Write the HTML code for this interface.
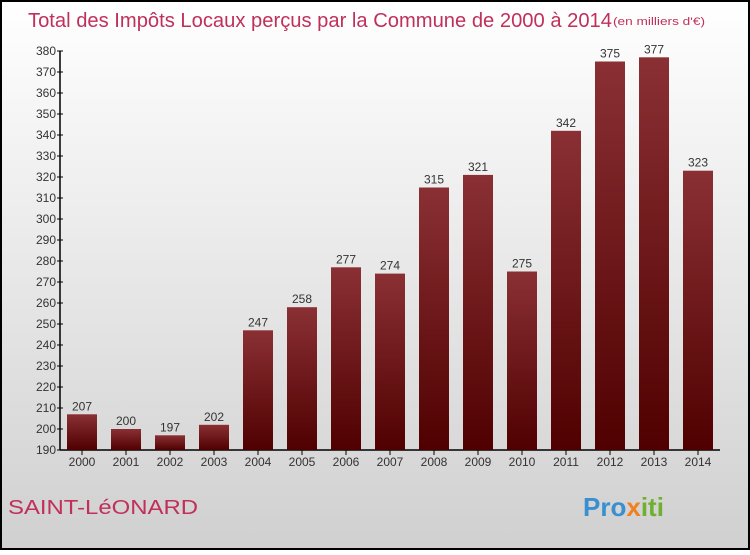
<!DOCTYPE html>
<html><head><meta charset="utf-8"><style>
body{margin:0}
svg text{font-family:"Liberation Sans",sans-serif}
</style></head><body>
<svg id="c" width="750" height="550" xmlns="http://www.w3.org/2000/svg">
<defs>
<linearGradient id="bg" x1="0" y1="0" x2="0" y2="1"><stop offset="0" stop-color="#ffffff"/><stop offset="1" stop-color="#d0d0d0"/></linearGradient>
<linearGradient id="bar" x1="0" y1="0" x2="0" y2="1"><stop offset="0" stop-color="#8a3034"/><stop offset="1" stop-color="#500000"/></linearGradient>
</defs>
<rect x="1" y="1" width="748" height="548" fill="url(#bg)" stroke="#000" stroke-width="2"/>
<text x="28" y="27" font-size="20" fill="#c0305a" textLength="584" lengthAdjust="spacingAndGlyphs">Total des Impôts Locaux perçus par la Commune de 2000 à 2014</text>
<text x="613" y="25" font-size="11" fill="#c0305a" textLength="92" lengthAdjust="spacingAndGlyphs">(en milliers d'€)</text>
<text x="8" y="514" font-size="20" fill="#c0305a" textLength="190" lengthAdjust="spacingAndGlyphs">SAINT-LéONARD</text>
<text x="583" y="516" font-size="26" font-weight="bold" fill="#3a8fd0">Pro<tspan fill="#f08020">x</tspan><tspan fill="#70b030">iti</tspan></text>
<g id="plot"></g>
</svg>
<script>
const years=["2000","2001","2002","2003","2004","2005","2006","2007","2008","2009","2010","2011","2012","2013","2014"];
const values=[207,200,197,202,247,258,277,274,315,321,275,342,375,377,323];
const ticks=[190,200,210,220,230,240,250,260,270,280,290,300,310,320,330,340,350,360,370,380];
const NS="http://www.w3.org/2000/svg";
const g=document.getElementById('plot');
const y=v=>450-(v-190)*2.1;
const x=i=>82+i*44;
function mk(t,a,txt){const e=document.createElementNS(NS,t);for(const k in a)e.setAttribute(k,a[k]);if(txt!=null)e.textContent=txt;g.appendChild(e);return e;}
let ax=mk('line',{x1:60,y1:y(380),x2:60,y2:450,stroke:'#000','stroke-width':1.5});


let bx=mk('line',{x1:60,y1:450,x2:720,y2:450,stroke:'#000','stroke-width':1.5});


ticks.forEach(t=>{
 let l=mk('line',{x1:57,y1:y(t),x2:63,y2:y(t),stroke:'#000'});
 
 
 let tx=mk('text',{x:56,y:y(t)+4,'font-size':12,fill:'#333','text-anchor':'end'},String(t));
 
 
});
years.forEach((yr,i)=>{
 const v=values[i];
 let r=mk('rect',{x:x(i)-15,y:y(v),width:30,height:450-y(v),fill:'url(#bar)'});
 
 
 let lb=mk('text',{x:x(i),y:y(v)-4,'font-size':12,fill:'#333','text-anchor':'middle'},String(v));
 
 
 let tk=mk('line',{x1:x(i),y1:450,x2:x(i),y2:455,stroke:'#000'});
 
 
 let xl=mk('text',{x:x(i),y:466,'font-size':12,fill:'#333','text-anchor':'middle'},yr);
 
 
});
</script>
</body></html>
